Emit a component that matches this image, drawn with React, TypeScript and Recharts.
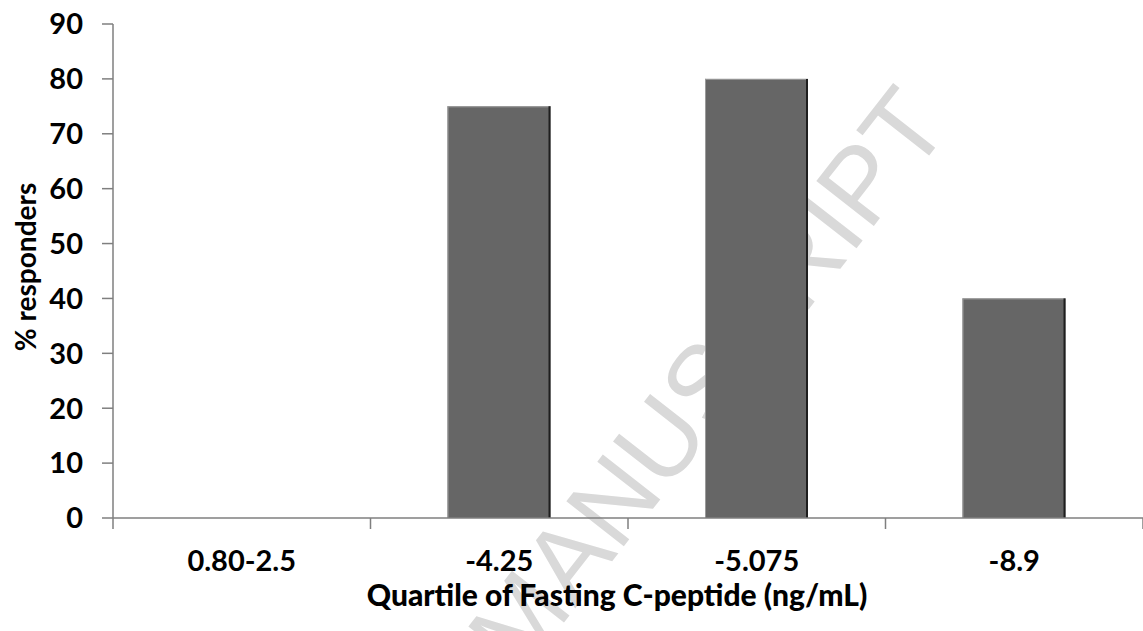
import React from "react";
import { BarChart, Bar, XAxis, YAxis } from "recharts";

const categories = ["0.80-2.5", "-4.25", "-5.075", "-8.9"];
const responders = [0, 75, 80, 40];
const yTicks = [0, 10, 20, 30, 40, 50, 60, 70, 80, 90];

const FONT = "Lato, 'Open Sans', sans-serif";

const data = categories.map((name, i) => ({
  name,
  pos: i + 0.5,
  value: responders[i],
}));

// ticks at the category boundaries (integers) and labels at the centres (halves)
const xTicks = [0, 0.5, 1, 1.5, 2, 2.5, 3, 3.5, 4];

function XTick(props: any) {
  const { x, y, payload } = props;
  const v = payload.value as number;
  if (Number.isInteger(v)) {
    return <line x1={x} y1={y} x2={x} y2={y + 11} stroke="#7f7f7f" strokeWidth={1.5} />;
  }
  const label = categories[Math.floor(v)];
  return (
    <text x={x} y={y + 53} textAnchor="middle" fontFamily={FONT} fontWeight={700} fontSize={29} fill="#000">
      {label}
    </text>
  );
}

function BarShape(props: any) {
  const { x, y, width, height } = props;
  if (!height || height <= 0) return null;
  return (
    <g>
      <rect x={x} y={y} width={width} height={height} fill="#666666" />
      <line x1={x + 0.5} y1={y} x2={x + 0.5} y2={y + height} stroke="#9a9a9a" strokeWidth={1} />
      <line x1={x} y1={y + 0.5} x2={x + width} y2={y + 0.5} stroke="#9a9a9a" strokeWidth={1} />
      <line x1={x + width - 1} y1={y} x2={x + width - 1} y2={y + height} stroke="#1e1e1e" strokeWidth={2} />
    </g>
  );
}

export default function App() {
  return (
    <div style={{ position: "absolute", left: 0, top: 0, width: 1143, height: 631, background: "#fff", overflow: "hidden" }}>
      <svg width={1143} height={631} style={{ position: "absolute", left: 0, top: 0 }}>
        <text
          x={952}
          y={126}
          textAnchor="end"
          transform="rotate(-52 952 126)"
          fontFamily="'Liberation Sans', Arial, sans-serif"
          fontSize={106}
          fill="#d9d9d9"
        >
          ACCEPTED MANUSCRIPT
        </text>
      </svg>
      <div style={{ position: "absolute", left: 0, top: 0 }}>
        <BarChart width={1143} height={631} data={data} margin={{ top: 24, right: 0, left: 0, bottom: 0 }}>
          <XAxis
            dataKey="pos"
            type="number"
            domain={[0, 4]}
            ticks={xTicks}
            interval={0}
            height={113}
            tickSize={0}
            tickMargin={0}
            tickLine={false}
            axisLine={{ stroke: "#7f7f7f", strokeWidth: 1.5 }}
            tick={<XTick />}
            label={() => (
              <text x={617} y={606} textAnchor="middle" fontFamily={FONT} fontWeight={900} fontSize={30} fill="#000">
                Quartile of Fasting C-peptide (ng/mL)
              </text>
            )}
          />
          <YAxis
            domain={[0, 90]}
            ticks={yTicks}
            interval={0}
            width={113}
            tickSize={11}
            tickMargin={19}
            tickLine={{ stroke: "#7f7f7f", strokeWidth: 1.5 }}
            axisLine={{ stroke: "#7f7f7f", strokeWidth: 1.5 }}
            tick={{ fontFamily: FONT, fontWeight: 700, fontSize: 29, fill: "#000" }}
            label={() => (
              <text
                x={25}
                y={267}
                textAnchor="middle"
                dominantBaseline="central"
                transform="rotate(-90 25 267)"
                fontFamily={FONT}
                fontWeight={700}
                fontSize={28}
                fill="#000"
              >
                % responders
              </text>
            )}
          />
          <Bar dataKey="value" barSize={103} shape={<BarShape />} isAnimationActive={false} />
        </BarChart>
      </div>
    </div>
  );
}
